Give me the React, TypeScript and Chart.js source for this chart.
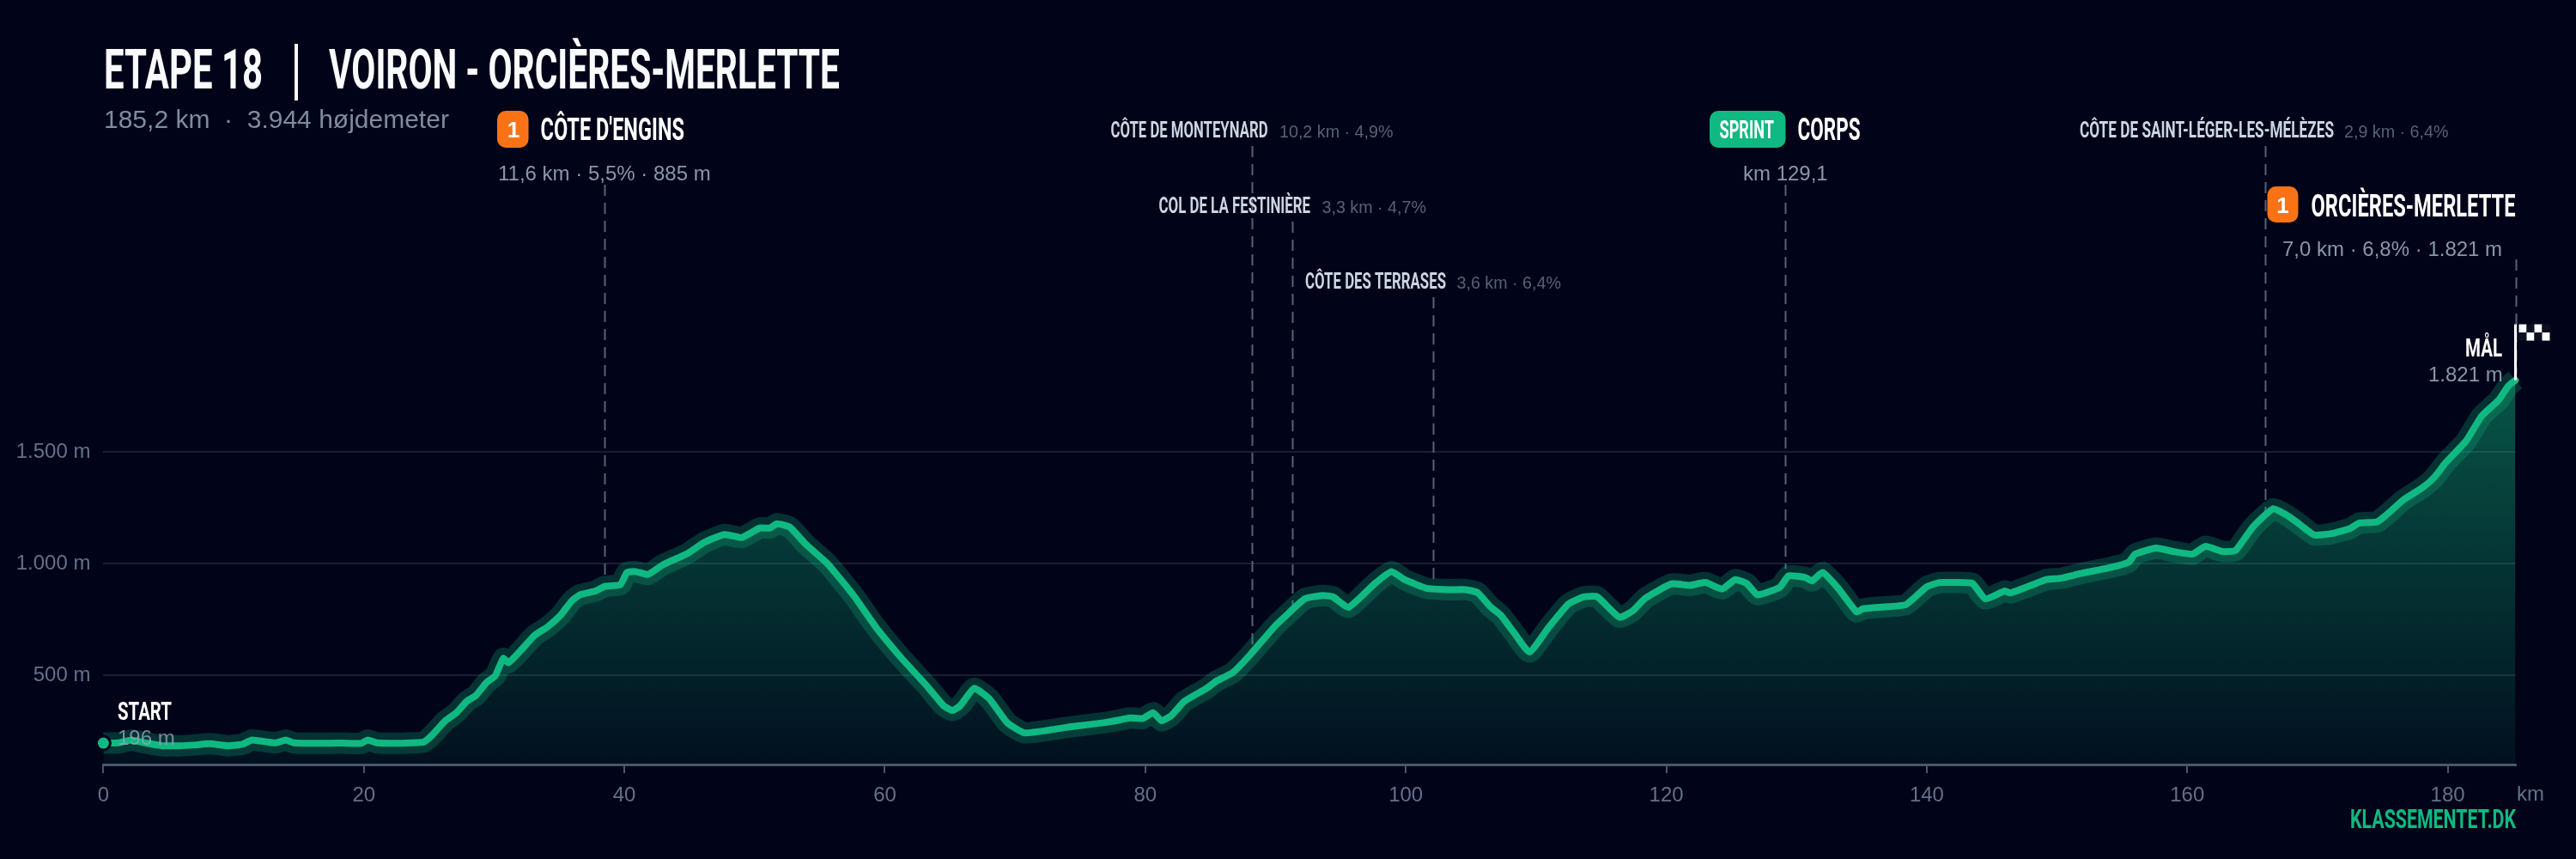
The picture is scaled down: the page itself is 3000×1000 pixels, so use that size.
import { useEffect, useRef } from "react";
import { Chart, registerables, Plugin } from "chart.js";

Chart.register(...registerables);

const kmPoints = [
  0, 1.15, 2.15, 3.2, 4.5, 5.85, 6.9, 8.2, 9.55, 10.7, 11.4, 12.6, 13.25, 14, 14.6, 16.3, 18.3, 19.8, 20.3, 21, 22.3, 23.7,
  24.6, 25.2, 26.2, 27.1, 27.9, 28.6, 29.4, 30.1, 30.7, 31.1, 32.1, 33.1, 34.1, 35.1, 35.95, 36.6, 37.8, 38.5, 39.7, 40.2,
  40.85, 41.8, 42.9, 43.5, 44.8, 46.15, 47.7, 49, 50.4, 51.2, 51.7, 52.7, 53.9, 55.6, 57.6, 59.3, 61.3, 63.3, 64.5, 65.2,
  65.8, 66.85, 68, 69.4, 70.7, 72.7, 74.4, 76.8, 78.1, 78.8, 79.8, 80.6, 81.25, 82, 83, 84.7, 85.5, 86.7, 88, 89.9, 90.7,
  92.25, 93.6, 94.4, 95.6, 97.6, 98.9, 99.9, 101.6, 103.3, 104.6, 105.5, 106.5, 107.3, 108.3, 109.5, 111, 112.5, 113.7,
  114.7, 116.4, 117.4, 118.4, 120.4, 121.8, 123, 124.3, 125.3, 126.2, 127, 128.7, 129.4, 130.7, 131.2, 132, 133.2, 134.6,
  135.1, 136.3, 138.4, 140, 141, 142.15, 143.5, 144.5, 146, 146.4, 148, 149.2, 150.3, 151.8, 154.1, 155.5, 156, 157.6,
  158.9, 160.4, 161.4, 162.7, 163.7, 164.95, 165.7, 166.6, 167.5, 168.4, 169.75, 171, 172.5, 173.2, 174.55, 175.2, 176.6,
  178.1, 179, 179.85, 181.4, 182.6, 183.9, 184.65, 185.2,
];
const elevation = [
  196, 197, 210, 197, 184, 184, 187, 193, 184, 191, 210, 201, 197, 210, 197, 195, 196, 195, 210, 197, 195, 197,
  201, 229, 293, 332, 383, 409, 466, 498, 575, 556, 614, 678, 716, 768, 832, 860, 877, 898, 905, 960,
  964, 951, 992, 1009, 1043, 1095, 1130, 1116, 1159, 1159, 1178, 1163, 1088, 999, 857, 716, 575, 447, 364, 342,
  364, 441, 396, 287, 242, 255, 270, 287, 300, 309, 306, 332, 296, 319, 383, 441, 475, 511, 588, 716, 761,
  842, 857, 851, 804, 909, 964, 928, 889, 883, 883, 870, 806, 768, 691, 604, 716, 819, 851,
  851, 759, 787, 845, 909, 902, 915, 886, 928, 909, 860, 893, 945, 937, 922, 960, 889, 784,
  797, 804, 816, 896, 915, 915, 911, 842, 877, 868, 902, 928, 934, 955, 982, 1006, 1042, 1069,
  1054, 1042, 1077, 1054, 1058, 1157, 1202, 1245, 1221, 1186, 1128, 1133, 1157, 1181, 1186, 1213, 1285,
  1341, 1388, 1452, 1548, 1660, 1731, 1795, 1821,
];
const xTickValues = [0, 20, 40, 60, 80, 100, 120, 140, 160, 180];
const yTickValues = [500, 1000, 1500];

const enginsKm = 38.45;
const monteynardKm = 88.2;
const festiniereKm = 91.3;
const terrasesKm = 102.1;
const corpsKm = 129.1;
const saintLegerKm = 166;
const finishKm = 185.2;

const GREEN = "#10b981";
const ORANGE = "#f97316";
const BG = "#010418";
const CONDENSED = "Roboto, sans-serif";
const BODY = "'Liberation Sans', Arial, sans-serif";

function heading(ctx: CanvasRenderingContext2D, text: string, x: number, y: number, size: number, color: string, width: number) {
  ctx.font = `700 ${size}px ${CONDENSED}`;
  ctx.fillStyle = color;
  ctx.textAlign = "left";
  ctx.fillText(text, x, y, width);
}

function body(ctx: CanvasRenderingContext2D, text: string, x: number, y: number, size: number, color: string) {
  ctx.font = `400 ${size}px ${BODY}`;
  ctx.fillStyle = color;
  ctx.textAlign = "left";
  ctx.fillText(text, x, y);
}

function badge(ctx: CanvasRenderingContext2D, x: number, y: number, w: number, h: number, color: string) {
  ctx.fillStyle = color;
  ctx.beginPath();
  ctx.roundRect(x, y, w, h, 10);
  ctx.fill();
}

// y-pixel of the profile at a given km (nearest read point)
function curveY(chart: Chart, km: number) {
  let best = 0;
  kmPoints.forEach((k, i) => {
    if (Math.abs(k - km) < Math.abs(kmPoints[best] - km)) best = i;
  });
  return chart.scales.y.getPixelForValue(elevation[best]);
}

const profileDecor: Plugin<"line"> = {
  id: "profileDecor",
  beforeDatasetsDraw(chart) {
    const { ctx } = chart;
    const x = chart.scales.x;
    const drops: [number, number][] = [
      [enginsKm, 215],
      [monteynardKm, 170],
      [festiniereKm, 258],
      [terrasesKm, 346],
      [corpsKm, 215],
      [saintLegerKm, 170],
      [finishKm, 302],
    ];
    ctx.save();
    ctx.strokeStyle = "#566176";
    ctx.lineWidth = 2;
    ctx.setLineDash([13, 8]);
    drops.forEach(([km, top]) => {
      const px = Math.round(x.getPixelForValue(km)) + 0.5;
      ctx.beginPath();
      ctx.moveTo(px, top);
      ctx.lineTo(px, curveY(chart, km) - 8);
      ctx.stroke();
    });
    ctx.restore();
  },
  afterDatasetsDraw(chart) {
    const { ctx } = chart;
    ctx.save();
    ctx.textBaseline = "alphabetic";

    // title block
    heading(ctx, "ETAPE 18", 121, 103, 65, "#f8fafc", 185);
    ctx.fillStyle = "#f8fafc";
    ctx.fillRect(343, 51, 4, 66);
    heading(ctx, "VOIRON - ORCIÈRES-MERLETTE", 383, 103, 65, "#f8fafc", 595);
    body(ctx, "185,2 km  ·  3.944 højdemeter", 121, 149, 30, "#7f8ba0");

    // Côte d'Engins
    badge(ctx, 579, 129, 36.5, 43, ORANGE);
    ctx.font = `700 26px ${BODY}`;
    ctx.fillStyle = "#ffffff";
    ctx.textAlign = "center";
    ctx.fillText("1", 598, 160);
    heading(ctx, "CÔTE D'ENGINS", 629.5, 163, 36, "#ffffff", 167.5);
    body(ctx, "11,6 km · 5,5% · 885 m", 580, 210, 24, "#8a96aa");

    // small climbs
    const small: [string, number, number, number, string, number][] = [
      ["CÔTE DE MONTEYNARD", 1293.5, 160, 183, "10,2 km · 4,9%", 1490],
      ["COL DE LA FESTINIÈRE", 1349.5, 248, 176.5, "3,3 km · 4,7%", 1539.5],
      ["CÔTE DES TERRASES", 1520, 336, 164, "3,6 km · 6,4%", 1696.5],
      ["CÔTE DE SAINT-LÉGER-LES-MÉLÈZES", 2422, 160, 296, "2,9 km · 6,4%", 2730],
    ];
    small.forEach(([name, nx, by, w, stats, sx]) => {
      heading(ctx, name, nx, by, 25, "#cbd5e1", w);
      body(ctx, stats, sx, by, 19.7, "#566177");
    });

    // sprint
    badge(ctx, 1991, 129, 88.5, 43, GREEN);
    heading(ctx, "SPRINT", 2002.5, 161, 30, "#ffffff", 63.5);
    heading(ctx, "CORPS", 2093.5, 163, 36, "#ffffff", 73);
    body(ctx, "km 129,1", 2030, 210, 24, "#8a96aa");

    // finish climb
    badge(ctx, 2640.5, 217, 36, 42, ORANGE);
    ctx.font = `700 26px ${BODY}`;
    ctx.fillStyle = "#ffffff";
    ctx.textAlign = "center";
    ctx.fillText("1", 2658.5, 248);
    heading(ctx, "ORCIÈRES-MERLETTE", 2691.5, 252, 36, "#ffffff", 238);
    body(ctx, "7,0 km · 6,8% · 1.821 m", 2658, 298, 24, "#8a96aa");

    // finish flag
    const fx = chart.scales.x.getPixelForValue(finishKm);
    const fy = chart.scales.y.getPixelForValue(elevation[elevation.length - 1]);
    ctx.fillStyle = "#ffffff";
    ctx.fillRect(fx - 1.5, fy - 65, 3, 65);
    const cell = 9;
    for (let c = 0; c < 4; c++) {
      for (let r = 0; r < 2; r++) {
        const cx = fx + 4 + c * cell;
        const cy = fy - 65 + r * 9.5;
        ctx.fillStyle = (c + r) % 2 === 0 ? "#ffffff" : "#0c1020";
        ctx.fillRect(cx, cy, cell, 9.5);
      }
    }
    heading(ctx, "MÅL", 2871, 415, 30, "#ffffff", 43);
    body(ctx, "1.821 m", 2828, 444, 24, "#8a96aa");

    // start
    heading(ctx, "START", 137, 838, 30, "#ffffff", 63);
    body(ctx, "196 m", 137, 867, 24, "rgba(148,163,184,0.8)");

    // footer
    body(ctx, "km", 2931, 932, 24, "#64708a");
    heading(ctx, "KLASSEMENTET.DK", 2737, 964, 32, GREEN, 193);
    ctx.restore();
  },
};

export default function App() {
  const canvasRef = useRef<HTMLCanvasElement>(null);

  useEffect(() => {
    if (!canvasRef.current) return;
    const points = kmPoints.map((km, i) => ({ x: km, y: elevation[i] }));

    const chart = new Chart(canvasRef.current, {
      type: "line",
      data: {
        datasets: [
          {
            data: points,
            borderColor: GREEN,
            borderWidth: 8,
            borderCapStyle: "round",
            borderJoinStyle: "round",
            tension: 0.15,
            fill: false,
            clip: false,
            pointRadius: (c: any) => (c.dataIndex === 0 ? 8 : 0),
            pointBackgroundColor: GREEN,
            pointBorderColor: BG,
            pointBorderWidth: 3,
          },
          {
            // halo round the line and the gradient under it
            data: points,
            borderColor: "rgba(16,185,129,0.25)",
            borderWidth: 25,
            borderJoinStyle: "round",
            tension: 0.15,
            pointRadius: 0,
            clip: false,
            fill: "start",
            backgroundColor: (c: any) => {
              const area = c.chart.chartArea;
              if (!area) return "rgba(16,185,129,0.2)";
              const top = c.chart.scales.y.getPixelForValue(1821);
              const g = c.chart.ctx.createLinearGradient(0, top, 0, area.bottom);
              g.addColorStop(0, "rgba(16,185,129,0.45)");
              g.addColorStop(1, "rgba(16,185,129,0.07)");
              return g;
            },
          },
        ],
      },
      options: {
        responsive: false,
        devicePixelRatio: 1,
        animation: false,
        layout: { padding: { top: 266, right: 70.5, left: 0, bottom: 0 } },
        plugins: {
          legend: { display: false },
          tooltip: { enabled: false },
          title: { display: false },
        },
        scales: {
          x: {
            type: "linear",
            min: 0,
            max: finishKm,
            afterBuildTicks: (s: any) => {
              s.ticks = xTickValues.map((value) => ({ value }));
            },
            afterFit: (s: any) => {
              s.height = 110;
            },
            border: { color: "#4b5568", width: 3 },
            grid: { drawOnChartArea: false, color: "#4b5568", tickLength: 10, lineWidth: 2 },
            ticks: {
              color: "#64708a",
              font: { family: BODY, size: 24 },
              padding: 12,
              maxRotation: 0,
              autoSkip: false,
              callback: (v: any) => String(v),
            },
          },
          y: {
            min: 100,
            max: 2500,
            afterBuildTicks: (s: any) => {
              s.ticks = yTickValues.map((value) => ({ value }));
            },
            afterFit: (s: any) => {
              s.width = 120.4;
            },
            border: { display: false },
            grid: { color: "rgba(148,163,184,0.17)", lineWidth: 2, drawTicks: false },
            ticks: {
              color: "#64708a",
              font: { family: BODY, size: 24 },
              padding: 15,
              callback: (v: any) => `${Number(v).toLocaleString("da-DK")} m`,
            },
          },
        },
      },
      plugins: [profileDecor],
    });

    return () => chart.destroy();
  }, []);

  return (
    <div style={{ position: "absolute", left: 0, top: 0, width: 3000, height: 1000, background: BG }}>
      <canvas ref={canvasRef} width={3000} height={1000} style={{ display: "block" }}></canvas>
    </div>
  );
}
